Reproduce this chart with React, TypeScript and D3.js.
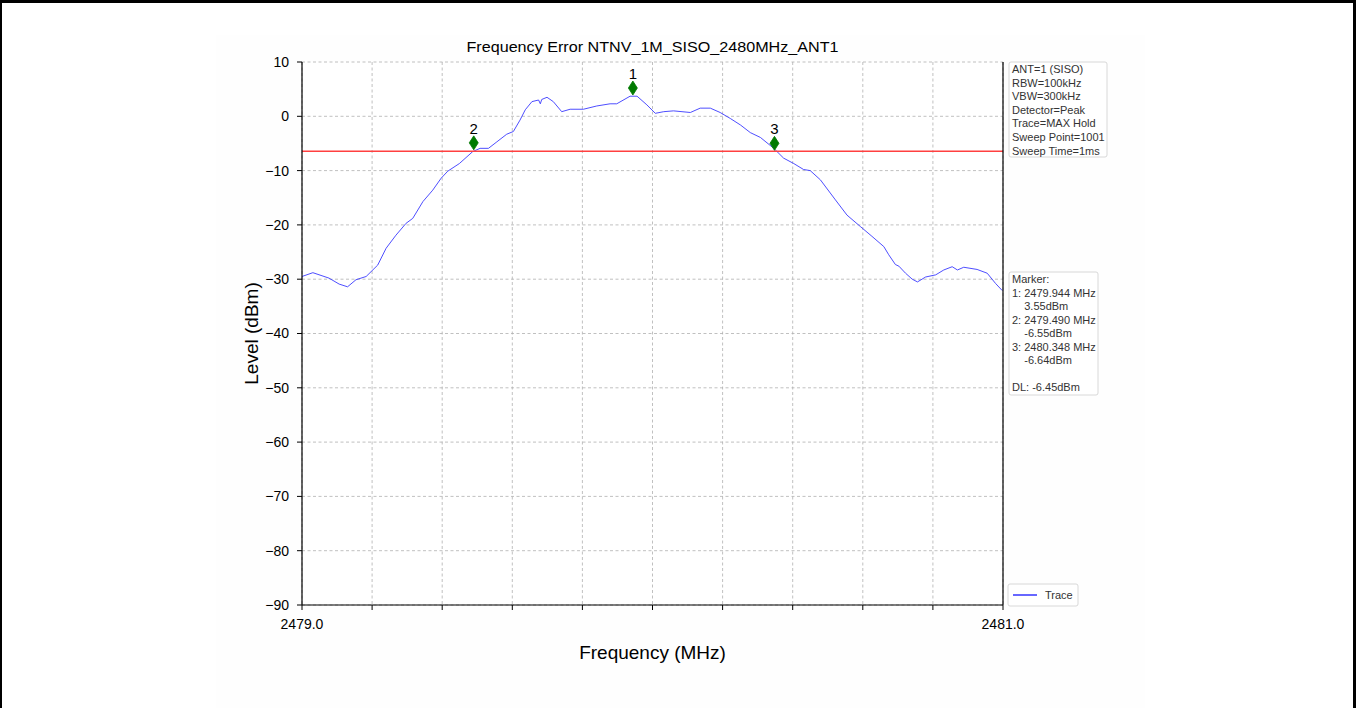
import React from "react";
import * as d3 from "d3";

const traceFreq = [
  2479.000, 2479.031, 2479.077, 2479.106, 2479.130, 2479.154, 2479.183, 2479.216, 2479.240, 2479.268,
  2479.297, 2479.316, 2479.345, 2479.373, 2479.397, 2479.416, 2479.449, 2479.487, 2479.508, 2479.532,
  2479.556, 2479.584, 2479.603, 2479.622, 2479.637, 2479.656, 2479.675, 2479.680, 2479.684, 2479.699,
  2479.717, 2479.741, 2479.765, 2479.803, 2479.841, 2479.879, 2479.898, 2479.936, 2479.956, 2479.984,
  2480.008, 2480.032, 2480.060, 2480.108, 2480.136, 2480.165, 2480.193, 2480.222, 2480.251, 2480.279,
  2480.308, 2480.346, 2480.374, 2480.403, 2480.431, 2480.450, 2480.479, 2480.522, 2480.555, 2480.593,
  2480.626, 2480.660, 2480.674, 2480.693, 2480.703, 2480.722, 2480.741, 2480.756, 2480.779, 2480.808,
  2480.831, 2480.855, 2480.870, 2480.888, 2480.926, 2480.955, 2480.979, 2480.998,
];
const traceLevel = [
  -29.5, -28.8, -29.8, -30.9, -31.4, -30.1, -29.5, -27.4, -24.3, -21.9,
  -19.7, -18.8, -15.7, -13.6, -11.4, -10.1, -8.7, -6.5, -5.9, -5.9,
  -4.7, -3.3, -2.8, -0.7, 1.2, 2.7, 3.0, 2.3, 3.1, 3.5,
  2.7, 0.85, 1.3, 1.3, 1.9, 2.3, 2.3, 3.7, 3.7, 2.1,
  0.55, 0.85, 1.0, 0.7, 1.5, 1.5, 0.7, -0.4, -1.6, -3.0,
  -3.9, -5.9, -7.7, -8.7, -9.8, -10.0, -11.7, -15.4, -18.2, -20.3,
  -22.1, -24.0, -25.5, -27.3, -27.6, -28.9, -30.0, -30.5, -29.6, -29.2,
  -28.3, -27.7, -28.3, -27.8, -28.2, -28.9, -30.8, -32.1,
];

const markerLabels = ["1", "2", "3"];
const markerFreqs = [2479.944, 2479.49, 2480.348];
const markerLevels = [3.55, -6.55, -6.64];
const displayLine = -6.45;

const yTicks = [10, 0, -10, -20, -30, -40, -50, -60, -70, -80, -90];
const xGridTicks = [2479.0, 2479.2, 2479.4, 2479.6, 2479.8, 2480.0, 2480.2, 2480.4, 2480.6, 2480.8, 2481.0];
const xTickLabels = [2479.0, 2481.0];

const settingsLines = [
  "ANT=1 (SISO)",
  "RBW=100kHz",
  "VBW=300kHz",
  "Detector=Peak",
  "Trace=MAX Hold",
  "Sweep Point=1001",
  "Sweep Time=1ms",
];
const markerLines = [
  "Marker:",
  "1: 2479.944 MHz",
  "    3.55dBm",
  "2: 2479.490 MHz",
  "    -6.55dBm",
  "3: 2480.348 MHz",
  "    -6.64dBm",
  "",
  "DL: -6.45dBm",
];

const title = "Frequency Error NTNV_1M_SISO_2480MHz_ANT1";

export default function App() {
  const W = 1356;
  const H = 708;
  const left = 302;
  const right = 1003;
  const top = 62;
  const bottom = 605;
  const font = "'Liberation Sans', Arial, sans-serif";

  const x = d3.scaleLinear().domain([2479, 2481]).range([left, right]);
  const y = d3.scaleLinear().domain([-90, 10]).range([bottom, top]);

  const pts = traceFreq.map((f, i) => [f, traceLevel[i]] as [number, number]);
  const line = d3
    .line<[number, number]>()
    .x((d) => x(d[0]))
    .y((d) => y(d[1]));

  const fmtMinus = (v: number) => (v < 0 ? "\u2212" + Math.abs(v) : String(v));

  return (
    <div style={{ position: "absolute", left: 0, top: 0 }}>
      <svg width={W} height={H} style={{ display: "block" }}>
        <rect x={0} y={0} width={W} height={H} fill="#ffffff" />
        <rect x={216} y={35} width={929} height={H - 35} fill="#fefefe" />
        {/* outer frame */}
        <rect x={0} y={0} width={W} height={3} fill="#000" />
        <rect x={0} y={0} width={2} height={H} fill="#000" />
        <rect x={W - 3} y={0} width={3} height={H} fill="#000" />

        <rect x={left} y={top} width={right - left} height={bottom - top} fill="#ffffff" />

        {/* grid */}
        {xGridTicks.map((t, i) => (
          <line key={"gx" + i} x1={x(t)} x2={x(t)} y1={top} y2={bottom} stroke="#b0b0b0" strokeWidth={0.8} strokeDasharray="3,2.5" />
        ))}
        {yTicks.map((t, i) => (
          <line key={"gy" + i} x1={left} x2={right} y1={y(t)} y2={y(t)} stroke="#b0b0b0" strokeWidth={0.8} strokeDasharray="3,2.5" />
        ))}

        {/* trace */}
        <path d={line(pts) || ""} fill="none" stroke="#3a3aff" strokeWidth={0.9} strokeLinejoin="round" />

        {/* display line */}
        <line x1={left} x2={right} y1={y(displayLine)} y2={y(displayLine)} stroke="#ff4040" strokeWidth={1.6} />

        {/* markers */}
        {markerFreqs.map((f, i) => {
          const cx = x(f);
          const cy = y(markerLevels[i]) - 9;
          return (
            <g key={"m" + i}>
              <path d={`M${cx},${cy - 7}L${cx + 4.5},${cy}L${cx},${cy + 7}L${cx - 4.5},${cy}Z`} fill="#007a00" stroke="#007a00" strokeWidth={0.8} />
              <text x={cx} y={cy - 9} textAnchor="middle" fontFamily={font} fontSize={15} fill="#000">
                {markerLabels[i]}
              </text>
            </g>
          );
        })}

        {/* spines */}
        <line x1={left} x2={left} y1={top} y2={bottom} stroke="#000" strokeWidth={1.2} />
        <line x1={right} x2={right} y1={top} y2={bottom} stroke="#000" strokeWidth={1.2} />
        <line x1={left} x2={right} y1={bottom} y2={bottom} stroke="#000" strokeWidth={1.2} />

        {/* ticks */}
        {yTicks.map((t, i) => (
          <g key={"yt" + i}>
            <line x1={left - 5} x2={left} y1={y(t)} y2={y(t)} stroke="#000" strokeWidth={1} />
            <text x={left - 13} y={y(t)} dy="0.35em" textAnchor="end" fontFamily={font} fontSize={14} fill="#000">
              {fmtMinus(t)}
            </text>
          </g>
        ))}
        {xGridTicks.map((t, i) => (
          <line key={"xt" + i} x1={x(t)} x2={x(t)} y1={bottom} y2={bottom + 5} stroke="#000" strokeWidth={1} />
        ))}
        {xTickLabels.map((t, i) => (
          <text key={"xl" + i} x={x(t)} y={bottom + 24} textAnchor="middle" fontFamily={font} fontSize={14} fill="#000">
            {t.toFixed(1)}
          </text>
        ))}

        {/* titles */}
        <text x={(left + right) / 2} y={52} textAnchor="middle" fontFamily={font} fontSize={15} fill="#000" textLength={372} lengthAdjust="spacingAndGlyphs">
          {title}
        </text>
        <text x={(left + right) / 2} y={659} textAnchor="middle" fontFamily={font} fontSize={19} fill="#000">
          Frequency (MHz)
        </text>
        <text transform={`translate(258,${(top + bottom) / 2}) rotate(-90)`} textAnchor="middle" fontFamily={font} fontSize={19} fill="#000">
          Level (dBm)
        </text>

        {/* settings box */}
        <rect x={1009} y={62} width={98} height={95} rx={2} fill="#ffffff" stroke="#d8d8d8" strokeWidth={1} />
        {settingsLines.map((s, i) => (
          <text key={"s" + i} x={1012} y={73 + i * 13.6} fontFamily={font} fontSize={11} fill="#333" style={{ whiteSpace: "pre" }}>
            {s}
          </text>
        ))}

        {/* marker box */}
        <rect x={1009} y={272} width={89} height={123} rx={2} fill="#ffffff" stroke="#d8d8d8" strokeWidth={1} />
        {markerLines.map((s, i) => (
          <text key={"ml" + i} x={1012} y={283 + i * 13.5} fontFamily={font} fontSize={11} fill="#333" style={{ whiteSpace: "pre" }} xmlSpace="preserve">
            {s}
          </text>
        ))}

        {/* legend */}
        <rect x={1008} y={584} width={70} height={22} rx={2} fill="#ffffff" stroke="#d8d8d8" strokeWidth={1} />
        <line x1={1013} x2={1037} y1={595} y2={595} stroke="#0000ff" strokeWidth={1.2} />
        <text x={1045} y={599} fontFamily={font} fontSize={11} fill="#333">
          Trace
        </text>
      </svg>
    </div>
  );
}
